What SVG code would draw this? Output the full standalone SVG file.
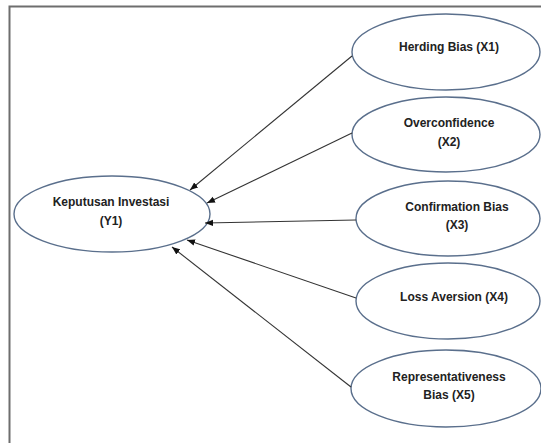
<svg xmlns="http://www.w3.org/2000/svg" width="541" height="443" viewBox="0 0 541 443">
<style>
.frame{fill:none;stroke:#6e6e6e;stroke-width:2}
.node ellipse{fill:#fff;stroke:#5a6f8c;stroke-width:1.4}
.node text{font-family:"Liberation Sans",Arial,sans-serif;font-weight:bold;font-size:12px;fill:#222;text-anchor:middle}
.edges line{stroke:#333;stroke-width:1.1;marker-end:url(#arr)}
</style>
<defs>
<marker id="arr" viewBox="0 0 10 10" refX="10" refY="5" markerWidth="8" markerHeight="8" markerUnits="userSpaceOnUse" orient="auto">
<path d="M0,1 L10,5 L0,9 Z" fill="#111"/>
</marker>
</defs>
<rect width="541" height="443" fill="#fff"/>
<rect class="frame" x="9.5" y="6.5" width="560" height="460"/>
<g id="y1" class="node">
<ellipse cx="112" cy="214" rx="98" ry="38"/>
<text x="111" y="206">Keputusan Investasi</text>
<text x="111" y="225">(Y1)</text>
</g>
<g id="x1" class="node">
<ellipse cx="446" cy="52" rx="94" ry="38"/>
<text x="449" y="51">Herding Bias (X1)</text>
</g>
<g id="x2" class="node">
<ellipse cx="446" cy="134.5" rx="94" ry="37.5"/>
<text x="449" y="127">Overconfidence</text>
<text x="449" y="146">(X2)</text>
</g>
<g id="x3" class="node">
<ellipse cx="448" cy="218.5" rx="92" ry="37.5"/>
<text x="457" y="211">Confirmation Bias</text>
<text x="457" y="229">(X3)</text>
</g>
<g id="x4" class="node">
<ellipse cx="448" cy="301" rx="92" ry="38"/>
<text x="454" y="301">Loss Aversion (X4)</text>
</g>
<g id="x5" class="node">
<ellipse cx="446" cy="388.5" rx="95" ry="38.5"/>
<text x="449" y="381">Representativeness</text>
<text x="449" y="399">Bias (X5)</text>
</g>
<g class="edges">
<line x1="352" y1="56" x2="190" y2="190"/>
<line x1="352" y1="133" x2="207" y2="203"/>
<line x1="356" y1="220" x2="205" y2="223"/>
<line x1="356" y1="298" x2="187" y2="240"/>
<line x1="351" y1="387" x2="172" y2="247"/>
</g>
</svg>
